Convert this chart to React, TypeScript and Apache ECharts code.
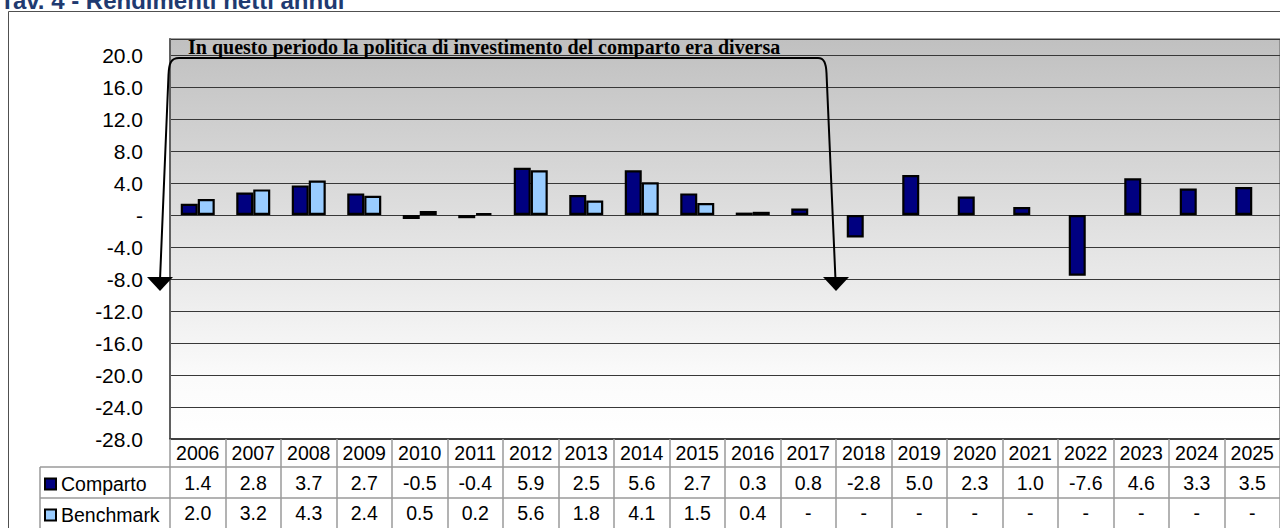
import React, { useEffect, useRef } from "react";
import * as echarts from "echarts";

const years = ["2006", "2007", "2008", "2009", "2010", "2011", "2012", "2013", "2014", "2015", "2016", "2017", "2018", "2019", "2020", "2021", "2022", "2023", "2024", "2025"];
const comparto: (number | null)[] = [1.4, 2.8, 3.7, 2.7, -0.5, -0.4, 5.9, 2.5, 5.6, 2.7, 0.3, 0.8, -2.8, 5.0, 2.3, 1.0, -7.6, 4.6, 3.3, 3.5];
const benchmark: (number | null)[] = [2.0, 3.2, 4.3, 2.4, 0.5, 0.2, 5.6, 1.8, 4.1, 1.5, 0.4, null, null, null, null, null, null, null, null, null];
const yMin = -28;
const yMax = 22;
const yStep = 4;
const seriesNames = ["Comparto", "Benchmark"];
const titleText = "Tav. 4 - Rendimenti netti annui";
const noteText = "In questo periodo la politica di investimento del comparto era diversa";

const fmt = (v: number | null) => (v == null ? "-" : v.toFixed(1));

const SANS = '"Liberation Sans", Arial, sans-serif';
const SERIF = '"Liberation Serif", "Times New Roman", serif';

echarts.graphic.registerShape(
  "bracket",
  echarts.graphic.extendPath(
    "M160 280 L168.5 75 C169 63 171 58 179 58 L818 58 C824 58 826 63 826.5 73 L835.5 280",
    {}
  )
);

export default function App() {
  const ref = useRef<HTMLDivElement>(null);
  useEffect(() => {
    if (!ref.current) return;
    const chart = echarts.init(ref.current, null, { renderer: "svg" });
    const tableLine = { color: "#9a9a9a", width: 1.5 };
    const labelBase = { color: "#000", fontSize: 19.5, fontFamily: SANS, interval: 0, hideOverlap: false };
    chart.setOption({
      animation: false,
      backgroundColor: "#fff",
      grid: {
        left: 170,
        top: 39,
        bottom: 89,
        right: -10,
        show: true,
        borderColor: "#808080",
        borderWidth: 1.5,
        backgroundColor: new echarts.graphic.LinearGradient(0, 0, 0, 1, [
          { offset: 0, color: "#c0c0c0" },
          { offset: 0.85, color: "#fbfbfb" },
          { offset: 1, color: "#ffffff" },
        ]),
      },
      legend: {
        data: seriesNames,
        orient: "vertical",
        left: 44,
        top: 474,
        itemWidth: 11,
        itemHeight: 11,
        itemGap: 11,
        icon: "rect",
        selectedMode: false,
        padding: 0,
        itemStyle: { borderColor: "#000", borderWidth: 2 },
        textStyle: { color: "#000", fontSize: 19.5, fontFamily: SANS, lineHeight: 18 },
      },
      xAxis: [
        {
          type: "category",
          data: years,
          position: "bottom",
          boundaryGap: true,
          axisLine: { onZero: false, lineStyle: { color: "#404040", width: 2 } },
          axisTick: { show: true, interval: 0, length: 28, lineStyle: tableLine },
          axisLabel: { ...labelBase, margin: 4 },
        },
        {
          type: "category",
          data: comparto.map(fmt),
          position: "bottom",
          offset: 28,
          boundaryGap: true,
          axisLine: { onZero: false, lineStyle: tableLine },
          axisTick: { show: true, interval: 0, length: 31, lineStyle: tableLine },
          axisLabel: { ...labelBase, margin: 6 },
        },
        {
          type: "category",
          data: benchmark.map(fmt),
          position: "bottom",
          offset: 59,
          boundaryGap: true,
          axisLine: { onZero: false, lineStyle: tableLine },
          axisTick: { show: true, interval: 0, length: 31, lineStyle: tableLine },
          axisLabel: { ...labelBase, margin: 5 },
        },
      ],
      yAxis: {
        type: "value",
        min: yMin,
        max: yMax,
        interval: yStep,
        axisLine: { show: true, lineStyle: { color: "#606060", width: 2 } },
        axisTick: { show: false },
        splitLine: { show: true, lineStyle: { color: "#383838", width: 1.2 } },
        axisLabel: {
          color: "#000",
          fontSize: 21,
          fontFamily: SANS,
          margin: 27,
          formatter: (v: number) => (v === yMax ? "" : v === 0 ? "-" : v.toFixed(1)),
        },
      },
      series: [
        {
          name: seriesNames[0],
          type: "bar",
          data: comparto,
          barWidth: 17,
          barGap: "0%",
          itemStyle: { color: "#000080", borderColor: "#000", borderWidth: 2.2 },
        },
        {
          name: seriesNames[1],
          type: "bar",
          data: benchmark,
          barWidth: 17,
          barGap: "0%",
          itemStyle: { color: "#99ccff", borderColor: "#000", borderWidth: 2.2 },
        },
      ],
      graphic: [
        {
          type: "rect",
          z: -10,
          silent: true,
          shape: { x: 8.5, y: 11.5, width: 1400, height: 700 },
          style: { fill: "none", stroke: "#505050", lineWidth: 1 },
        },
        {
          type: "text",
          silent: true,
          style: { text: titleText, x: 0, y: 12, font: `bold 24px ${SANS}`, fill: "#1f3a70", verticalAlign: "bottom" },
        },
        {
          type: "line",
          silent: true,
          shape: { x1: 40, y1: 467, x2: 170, y2: 467 },
          style: { stroke: "#9a9a9a", lineWidth: 1.5 },
        },
        {
          type: "line",
          silent: true,
          shape: { x1: 40, y1: 498, x2: 170, y2: 498 },
          style: { stroke: "#9a9a9a", lineWidth: 1.5 },
        },
        {
          type: "line",
          silent: true,
          shape: { x1: 40, y1: 467, x2: 40, y2: 530 },
          style: { stroke: "#9a9a9a", lineWidth: 1.5 },
        },
        {
          type: "text",
          silent: true,
          z: 100,
          style: { text: noteText, x: 188, y: 46.5, font: `bold 20px ${SERIF}`, fill: "#000", verticalAlign: "middle" },
        },
        {
          type: "bracket",
          silent: true,
          z: 100,
          x: 0,
          y: 0,
          style: { fill: "none", stroke: "#000", lineWidth: 2 },
        },
        {
          type: "polygon",
          silent: true,
          z: 100,
          shape: { points: [[147, 277], [173, 277], [160, 291]] },
          style: { fill: "#000" },
        },
        {
          type: "polygon",
          silent: true,
          z: 100,
          shape: { points: [[823, 277], [849, 277], [836, 291]] },
          style: { fill: "#000" },
        },
      ],
    });
    return () => chart.dispose();
  }, []);
  return (
    <div
      ref={ref}
      style={{ position: "fixed", left: 0, top: 0, width: 1280, height: 528, overflow: "hidden" }}
    />
  );
}
